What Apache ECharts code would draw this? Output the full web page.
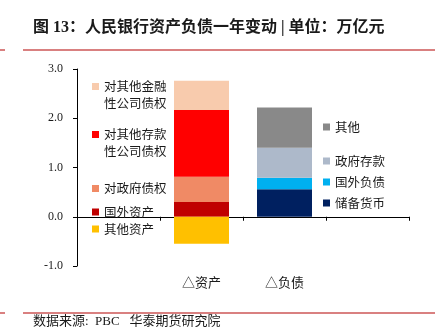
<!DOCTYPE html>
<html>
<head>
<meta charset="utf-8">
<script src="https://cdn.jsdelivr.net/npm/echarts@6/dist/echarts.min.js"></script>
<style>html,body{margin:0;padding:0;background:#fff;}#c{width:439px;height:335px;}</style>
</head>
<body>
<div id="c"></div>
<script>
const categories = ['', '△资产', '△负债', ''];
const assetNames = ['国外资产', '对政府债权', '对其他存款性公司债权', '对其他金融性公司债权', '其他资产'];
const assetValues = [0.30, 0.51, 1.36, 0.59, -0.55];
const liabNames = ['储备货币', '国外负债', '政府存款', '其他'];
const liabValues = [0.56, 0.23, 0.61, 0.82];
const yMin = -1, yMax = 3, yStep = 1;

const assetColors = ['#C00000', '#F08A65', '#FF0000', '#F8CBAD', '#FFC000'];
const liabColors = ['#002060', '#00B0F0', '#ADB9CA', '#898989'];

const FONT = "'Liberation Serif', 'Noto Sans CJK SC', serif";
const CJK = "'Noto Sans CJK SC', sans-serif";

const series = [];
assetNames.forEach((n, i) => {
  series.push({
    name: n, type: 'bar', stack: 'total', barWidth: 55,
    itemStyle: { color: assetColors[i] },
    data: categories.map((c, k) => k === 1 ? assetValues[i] : null)
  });
});
liabNames.forEach((n, i) => {
  series.push({
    name: n, type: 'bar', stack: 'total', barWidth: 55,
    itemStyle: { color: liabColors[i] },
    data: categories.map((c, k) => k === 2 ? liabValues[i] : null)
  });
});

const twoLine = {
  '对其他金融性公司债权': ['对其他金融', '性公司债权'],
  '对其他存款性公司债权': ['对其他存款', '性公司债权']
};
function mkLegend(name, left, yc) {
  const multi = !!twoLine[name];
  return {
    data: [name], left: left, top: multi ? yc - 25.5 : yc - 8.5,
    orient: 'vertical', padding: 0, itemWidth: 7, itemHeight: 7,
    icon: 'rect', selectedMode: false,
    formatter: (nm) => twoLine[nm] ? '{e| }\n{a|' + twoLine[nm][0] + '}\n{a|' + twoLine[nm][1] + '}' : nm,
    textStyle: { fontFamily: CJK, fontSize: 12.5, color: '#1a1a1a', lineHeight: 17,
      rich: {
        e: { fontSize: 12.5, lineHeight: 17, fontFamily: CJK },
        a: { fontSize: 12.5, lineHeight: 17, fontFamily: CJK, color: '#1a1a1a' }
      } }
  };
}
const legends = [
  mkLegend('对其他金融性公司债权', 92, 86.5),
  mkLegend('对其他存款性公司债权', 92, 134.5),
  mkLegend('对政府债权', 92, 188.5),
  mkLegend('国外资产', 92, 212),
  mkLegend('其他资产', 92, 229),
  mkLegend('其他', 323, 127),
  mkLegend('政府存款', 323, 161),
  mkLegend('国外负债', 323, 182),
  mkLegend('储备货币', 323, 203)
];

const chart = echarts.init(document.getElementById('c'), null, { renderer: 'canvas' });
chart.setOption({
  animation: false,
  backgroundColor: '#fff',
  title: {
    text: '{a|图 13：人民银行资产负债一年变动 | 单位：万亿元}',
    left: 33, top: 18, padding: 0,
    textStyle: { rich: { a: { fontFamily: FONT, fontSize: 16, fontWeight: 'bold', color: '#1a1a1a', lineHeight: 20 } } }
  },
  legend: legends,
  grid: { left: 77, right: 30, top: 69, bottom: 69 },
  xAxis: [
    {
      type: 'category', data: categories, position: 'bottom',
      axisLine: { onZero: true, lineStyle: { color: '#000', width: 1 } },
      axisTick: { show: true, length: 4, lineStyle: { color: '#000' } },
      axisLabel: { show: false }
    },
    {
      type: 'category', data: categories, position: 'bottom',
      axisLine: { show: false, onZero: false },
      axisTick: { show: false },
      axisLabel: { margin: 10, fontFamily: CJK, fontSize: 13, color: '#1a1a1a' }
    }
  ],
  yAxis: {
    type: 'value', min: yMin, max: yMax, interval: yStep,
    axisLine: { show: true, lineStyle: { color: '#000' } },
    axisTick: { show: true, length: 4, lineStyle: { color: '#000' } },
    splitLine: { show: false },
    axisLabel: { margin: 14, fontFamily: FONT, fontSize: 12, color: '#1a1a1a', formatter: v => v.toFixed(1) }
  },
  graphic: [
    { type: 'rect', shape: { x: 0, y: 49, width: 5, height: 2 }, style: { fill: '#D98080' } },
    { type: 'rect', shape: { x: 23, y: 49, width: 412, height: 2 }, style: { fill: '#D98080' } },
    { type: 'rect', shape: { x: 0, y: 312, width: 5, height: 2 }, style: { fill: '#D98080' } },
    { type: 'rect', shape: { x: 23, y: 312, width: 412, height: 2 }, style: { fill: '#D98080' } },
    { type: 'text', left: 33, top: 315, style: { text: '数据来源:  PBC   华泰期货研究院', font: "13px " + FONT, fill: '#1a1a1a' } }
  ],
  series: series
});
</script>
</body>
</html>
